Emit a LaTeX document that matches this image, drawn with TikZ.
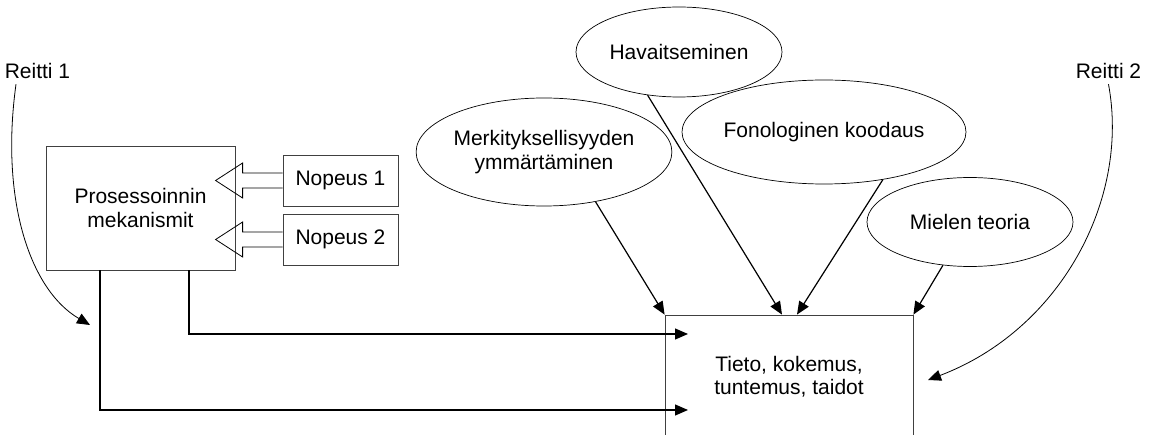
\documentclass[tikz,border=0pt]{standalone}
\usepackage{fontspec}
\setmainfont{Liberation Sans}
\usetikzlibrary{shapes.geometric,arrows.meta}

\tikzset{
    box/.style={draw=black!75, line width=0.8pt, align=center, inner sep=0pt},
    oval/.style={ellipse, draw, line width=0.7pt, align=center, inner sep=0pt},
    arr/.style={line width=1.2pt, -{Triangle[length=13pt,width=11pt]}},
    route/.style={line width=0.8pt, -{Triangle[length=13pt,width=11pt]}},
}

\begin{document}
\begin{tikzpicture}[x=1pt, y=-1pt, font=\fontsize{21}{23.5}\selectfont]
    \useasboundingbox (0,0) rectangle (1154,435);
    \clip (0,0) rectangle (1154,435);

    \node (reitti1) at (37.5,71) {Reitti 1};
    \node (reitti2) at (1108.5,71) {Reitti 2};

    \node[box, minimum width=189pt, minimum height=124pt] (pros) at (140.5,208) {Prosessoinnin\\mekanismit};
    \node[box, minimum width=115pt, minimum height=51pt] (nop1) at (340.5,180.5) {Nopeus 1};
    \node[box, minimum width=115pt, minimum height=51pt] (nop2) at (340.5,239.5) {Nopeus 2};
    \node[box, minimum width=248pt, minimum height=123pt] (tieto) at (789,376.5) {Tieto, kokemus,\\tuntemus, taidot};

    \node[oval, minimum width=206pt, minimum height=90pt] (hav) at (679,52) {Havaitseminen};
    \node[oval, minimum width=246pt, minimum height=108pt] (merk) at (544,152) {Merkityksellisyyden\\ymmärtäminen};
    \node[oval, minimum width=238pt, minimum height=104pt] (fon) at (824,132) {Fonologinen koodaus};
    \node[oval, minimum width=206pt, minimum height=89pt] (miel) at (970,222) {Mielen teoria};

    \foreach \n in {nop1,nop2}
        \draw[line width=0.8pt] (\n.west) ++(0,-7.5) -- ++(-40,0) -- ++(0,-10) -- ++(-27,17.5)
            -- ++(27,17.5) -- ++(0,-10) -- ++(40,0);

    \draw[arr] (merk.-44) -- (tieto.north west);
    \draw[arr] (hav.-126) -- ([xshift=-7pt]tieto.north);
    \draw[arr] (fon.-39) -- ([xshift=8pt]tieto.north);
    \draw[arr] (miel.-122) -- (tieto.north east);

    \coordinate (in1) at (688,334);
    \coordinate (in2) at (688,410);
    \draw[arr] ([xshift=48.5pt]pros.south) |- (in1);
    \draw[arr] ([xshift=-40.5pt]pros.south) |- (in2);

    \coordinate (r1end) at (90,325);
    \coordinate (r2end) at (928,380);
    \draw[route] ([xshift=-21.5pt,yshift=-2pt]reitti1.south) .. controls (0,200) and (30,290) .. (r1end);
    \draw[route] ([yshift=-2pt]reitti2.south) .. controls (1130,200) and (1060,330) .. (r2end);
\end{tikzpicture}
\end{document}
